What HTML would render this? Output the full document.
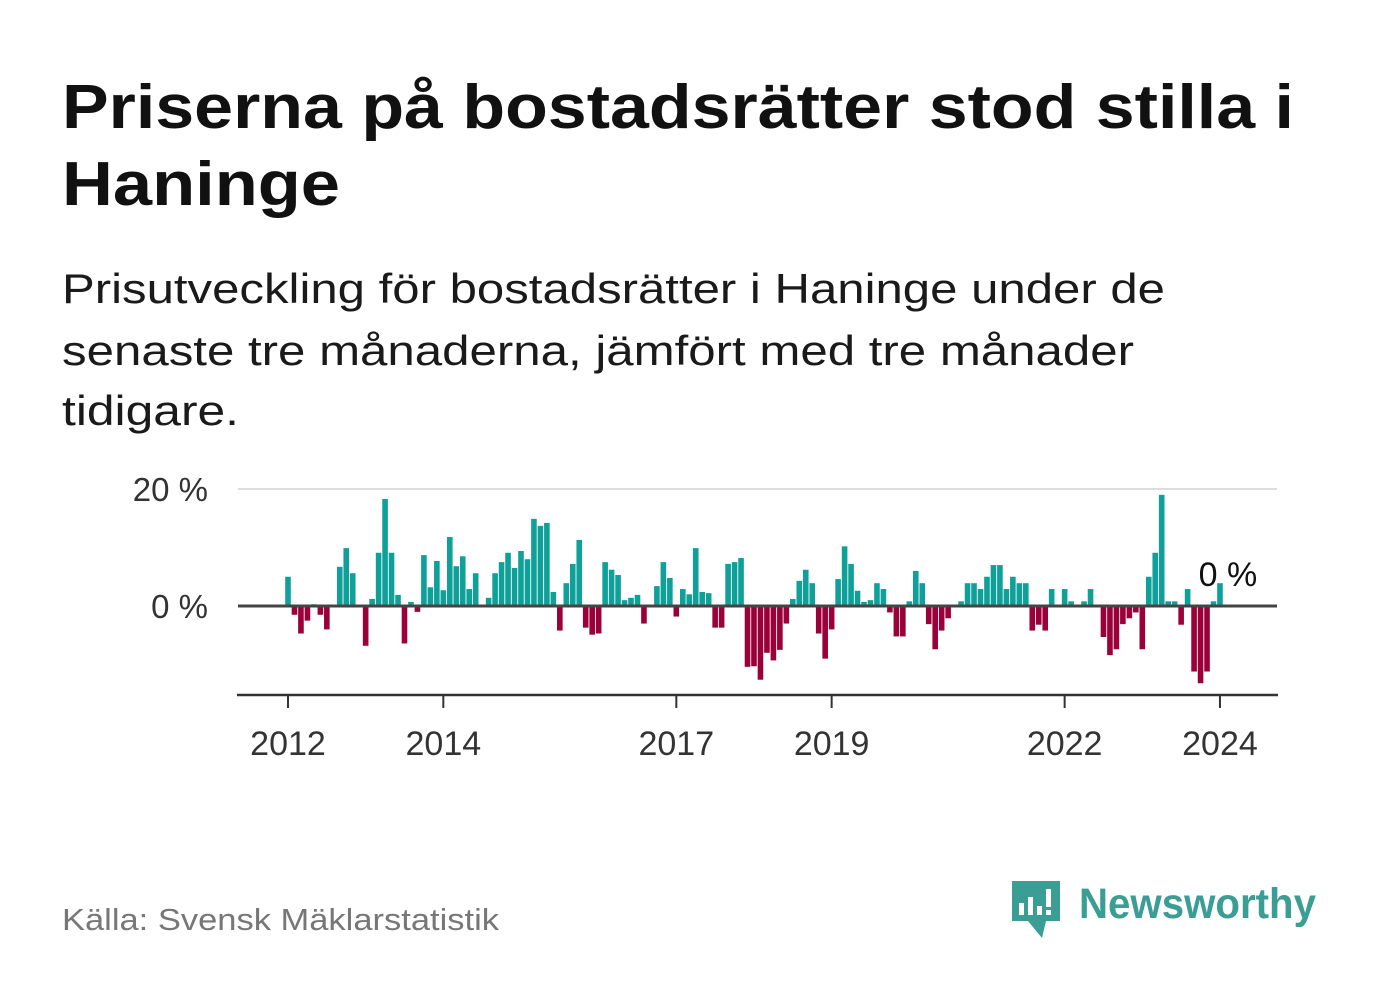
<!DOCTYPE html>
<html><head><meta charset="utf-8"><style>
body{margin:0;background:#fff;}
svg{display:block;font-family:"Liberation Sans",sans-serif;}
</style></head><body>
<svg id="chart" width="1382" height="999" viewBox="0 0 1382 999">
<rect width="1382" height="999" fill="#fff"/>
<text x="62" y="128" font-size="62" font-weight="bold" fill="#111" textLength="1232" lengthAdjust="spacingAndGlyphs">Priserna på bostadsrätter stod stilla i</text>
<text x="62" y="205" font-size="62" font-weight="bold" fill="#111" textLength="278" lengthAdjust="spacingAndGlyphs">Haninge</text>
<text x="62" y="303" font-size="42" fill="#1a1a1a" textLength="1103" lengthAdjust="spacingAndGlyphs">Prisutveckling för bostadsrätter i Haninge under de</text>
<text x="62" y="365" font-size="42" fill="#1a1a1a" textLength="1072" lengthAdjust="spacingAndGlyphs">senaste tre månaderna, jämfört med tre månader</text>
<text x="62" y="425" font-size="42" fill="#1a1a1a" textLength="177" lengthAdjust="spacingAndGlyphs">tidigare.</text>
<g id="plot"></g>
<text x="62" y="930" font-size="31" fill="#777" textLength="437" lengthAdjust="spacingAndGlyphs">Källa: Svensk Mäklarstatistik</text>
<g>
<path d="M1012 881 h48 v40 h-14 l-4 17 l-14 -17 h-16 z" fill="#3a9e95"/>
<rect x="1019" y="903" width="5" height="12" fill="#fff"/>
<rect x="1028" y="897" width="5" height="18" fill="#fff"/>
<rect x="1037" y="906" width="5" height="9" fill="#fff"/>
<rect x="1046" y="889" width="5" height="18" fill="#fff"/>
<rect x="1046" y="910" width="5" height="5" fill="#fff"/>
<text x="1079" y="918" font-size="43" font-weight="bold" fill="#3a9e95" textLength="237" lengthAdjust="spacingAndGlyphs">Newsworthy</text>
</g>
</svg>
<script>
const values = [5,-1.5,-4.7,-2.5,0.3,-1.5,-4,0,6.7,9.9,5.6,0,-6.8,1.2,9.1,18.3,9.1,1.9,-6.4,0.7,-1,8.7,3.2,7.7,2.7,11.8,6.8,8.5,2.9,5.6,0,1.4,5.6,7.5,9.1,6.5,9.4,8,14.9,13.7,14.2,2.4,-4.2,3.9,7.2,11.3,-3.7,-4.9,-4.7,7.5,6.2,5.3,1,1.4,1.9,-3,0,3.4,7.5,4.8,-1.8,2.9,2,9.9,2.4,2.2,-3.7,-3.7,7.2,7.5,8.2,-10.4,-10.3,-12.6,-8,-9.3,-7.5,-3,1.2,4.3,6.2,3.9,-4.7,-9,-4,4.6,10.2,7.2,2.6,0.7,1,3.9,2.9,-1.1,-5.2,-5.2,0.8,6,3.9,-3.1,-7.4,-4.2,-2.1,0,0.8,3.9,3.9,2.9,5,7,7,2.9,5,3.9,3.9,-4.2,-3.2,-4.2,2.9,0,2.9,0.8,0,0.8,2.9,0,-5.3,-8.4,-7.4,-3.1,-2.1,-1.1,-7.4,5,9.1,19,0.8,0.8,-3.2,2.9,-11.2,-13.2,-11.2,0.8,3.9];
const startYear = 2012;
const yearTicks = [2012,2014,2017,2019,2022,2024];
const yTicks = [0,20];
const yTickLabels = ["0 %","20 %"];
const lastLabel = "0 %";

const NS = "http://www.w3.org/2000/svg";
const g = document.getElementById('plot');
const x0 = 288, monthW = 6.472, y0 = 606, pxPer = 5.85;
const xScale = m => x0 + m * monthW;
const yScale = v => y0 - v * pxPer;
function mk(tag, attrs){const e=document.createElementNS(NS,tag);for(const k in attrs)e.setAttribute(k,attrs[k]);g.appendChild(e);return e;}

yTicks.forEach((t,i)=>{
  if(t!==0){const l=mk('line',{x1:238,x2:1277,y1:yScale(t),y2:yScale(t),stroke:'#dddddd','stroke-width':2});
  
  }
  const tx=mk('text',{x:208,y:yScale(t)+12,'font-size':33,fill:'#333','text-anchor':'end'});
  tx.textContent=yTickLabels[i];
  
  
});
values.forEach((v,i)=>{
  if(v===0)return;
  const yv=yScale(v);
  const r=mk('rect',{x:xScale(i)-2.8,width:5.6,y:Math.min(yv,y0),height:Math.abs(yv-y0),fill:v>0?'#0fa199':'#9b0039'});
  
  
});
const z=mk('line',{x1:238,x2:1277,y1:y0,y2:y0,stroke:'#444','stroke-width':3});


const ax=mk('line',{x1:237,x2:1278,y1:695,y2:695,stroke:'#333','stroke-width':2.5});


yearTicks.forEach(yr=>{
  const xx=xScale((yr-startYear)*12);
  const t=mk('line',{x1:xx,x2:xx,y1:695,y2:708,stroke:'#333','stroke-width':2});
  
  
  const tx=mk('text',{x:xx,y:755,'font-size':34,fill:'#333','text-anchor':'middle'});
  tx.textContent=yr;
  
  
});
const ll=mk('text',{x:xScale(values.length-1)+8,y:586,'font-size':34,fill:'#111','text-anchor':'middle'});
ll.textContent=lastLabel;


</script>
</body></html>
